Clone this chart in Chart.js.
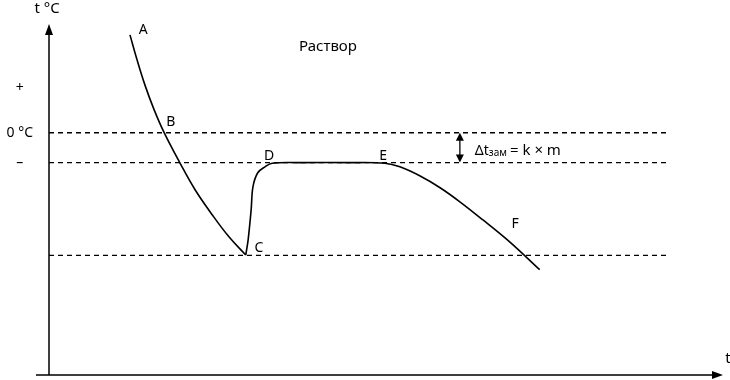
<!DOCTYPE html>
<html>
<head>
<meta charset="utf-8">
<script src="https://cdn.jsdelivr.net/npm/chart.js@4.4.1/dist/chart.umd.min.js"></script>
<style>
  body { margin: 0; background: #fff; }
  canvas { display: block; }
</style>
</head>
<body>
<canvas id="chart" width="730" height="380"></canvas>
<script>
// cooling curve of a solution (time in arbitrary units, temperature in degrees)
const coolTime = [13.5, 14.7, 16.0, 17.5, 19.2, 21.8, 24.3, 27.2, 30.0, 32.8];
const coolTemp = [3.27, 2.42, 1.59, 0.78, 0.0, -1.0, -1.89, -2.74, -3.48, -4.09];

const freezeTime = [32.8, 33.2, 33.7, 34.0, 34.8, 36.0, 37.2, 41.8, 50.2, 56.0, 58.5, 61.8, 65.2, 68.5, 72.3, 76.8, 81.8];
const freezeTemp = [-4.09, -3.58, -2.58, -1.81, -1.34, -1.14, -1.02, -1.0, -1.0, -1.02, -1.14, -1.44, -1.84, -2.31, -2.91, -3.65, -4.58];

// dashed reference levels: water freezing point, solution freezing point, supercooling
const levelTemps = [0, -1, -4.1];
const levelEnd = 103.2;

const yTicks = [1.5, 0, -1];
const yTickLabels = ['+', '0 °C', '–'];

const pointNames = ['A', 'B', 'C', 'D', 'E', 'F'];
const pointTime = [15.7, 20.3, 35.0, 36.7, 55.7, 77.7];
const pointTemp = [3.44, 0.37, -3.85, -0.77, -0.77, -3.04];

const FONT = '"Noto Sans", "Open Sans", sans-serif';

const datasets = [
  {
    data: coolTime.map((t, i) => ({ x: t, y: coolTemp[i] })),
    borderColor: '#000', borderWidth: 1.6, pointRadius: 0, tension: 0.4
  },
  {
    data: freezeTime.map((t, i) => ({ x: t, y: freezeTemp[i] })),
    borderColor: '#000', borderWidth: 1.6, pointRadius: 0, tension: 0.35
  }
];
levelTemps.forEach(v => {
  datasets.push({
    data: [{ x: 0, y: v }, { x: levelEnd, y: v }],
    borderColor: '#000', borderWidth: 1.4, borderDash: [5, 4], pointRadius: 0
  });
});

function arrowHead(ctx, x, y, dx, dy) {
  // filled triangle pointing along (dx, dy)
  const len = 11, half = 4;
  ctx.beginPath();
  ctx.moveTo(x, y);
  ctx.lineTo(x - dx * len - dy * half, y - dy * len + dx * half);
  ctx.lineTo(x - dx * len + dy * half, y - dy * len - dx * half);
  ctx.closePath();
  ctx.fill();
}

const extras = {
  id: 'extras',
  afterDraw(chart) {
    const ctx = chart.ctx;
    const xs = chart.scales.x, ys = chart.scales.y;
    const a = chart.chartArea;
    ctx.save();
    ctx.strokeStyle = '#000';
    ctx.fillStyle = '#000';
    ctx.lineWidth = 1.5;

    // axes with arrows
    ctx.beginPath();
    ctx.moveTo(a.left, a.bottom);
    ctx.lineTo(a.left, a.top + 6);
    ctx.moveTo(a.left - 13, a.bottom);
    ctx.lineTo(a.right - 6, a.bottom);
    ctx.stroke();
    arrowHead(ctx, a.left, a.top - 1, 0, -1);
    arrowHead(ctx, a.right + 1, a.bottom, 1, 0);

    ctx.textAlign = 'center';
    ctx.textBaseline = 'middle';
    ctx.font = '15px ' + FONT;
    ctx.fillText('t °C', a.left - 2, 9);
    ctx.fillText('t', a.right + 6, a.bottom - 16);

    // point letters
    ctx.font = '14px ' + FONT;
    pointNames.forEach((n, i) => {
      ctx.fillText(n, xs.getPixelForValue(pointTime[i]), ys.getPixelForValue(pointTemp[i]));
    });

    ctx.font = '15px ' + FONT;
    ctx.fillText('Раствор', xs.getPixelForValue(46.5), ys.getPixelForValue(2.88));

    // freezing point depression marker
    const ax = xs.getPixelForValue(68.5);
    const y0 = ys.getPixelForValue(levelTemps[0]);
    const y1 = ys.getPixelForValue(levelTemps[1]);
    ctx.lineWidth = 1.3;
    ctx.beginPath();
    ctx.moveTo(ax, y0 + 6);
    ctx.lineTo(ax, y1 - 6);
    ctx.stroke();
    const ah = (x, y, d) => {
      ctx.beginPath();
      ctx.moveTo(x, y);
      ctx.lineTo(x - 4, y - d * 8);
      ctx.lineTo(x + 4, y - d * 8);
      ctx.closePath();
      ctx.fill();
    };
    ah(ax, y0, -1);
    ah(ax, y1, 1);

    let tx = xs.getPixelForValue(71.0);
    const ty = (y0 + y1) / 2 + 3;
    ctx.textAlign = 'left';
    ctx.font = '14px ' + FONT;
    ctx.fillText('Δt', tx, ty);
    tx += ctx.measureText('Δt').width;
    ctx.font = '10px ' + FONT;
    ctx.fillText('зам', tx, ty + 3);
    tx += ctx.measureText('зам').width + 3;
    ctx.font = '15px ' + FONT;
    ctx.fillText('= k × m', tx, ty);

    ctx.restore();
  }
};

new Chart(document.getElementById('chart'), {
  type: 'line',
  data: { datasets: datasets },
  options: {
    responsive: false,
    animation: false,
    layout: { padding: { top: 25, right: 8, bottom: 5, left: 0 } },
    plugins: { legend: { display: false }, tooltip: { enabled: false } },
    scales: {
      x: { type: 'linear', display: false, min: 0, max: 112.2 },
      y: {
        type: 'linear', min: -8.1, max: 3.6,
        grid: { display: false, drawTicks: false },
        border: { display: false },
        afterFit: s => { s.width = 49; s.paddingTop = 0; s.paddingBottom = 0; },
        afterBuildTicks: s => { s.ticks = yTicks.map(v => ({ value: v })); },
        ticks: {
          color: '#000', padding: 16, crossAlign: 'center', autoSkip: false,
          font: { size: 14, family: FONT },
          callback: (v, i) => yTickLabels[i]
        }
      }
    }
  },
  plugins: [extras]
});
</script>
</body>
</html>
